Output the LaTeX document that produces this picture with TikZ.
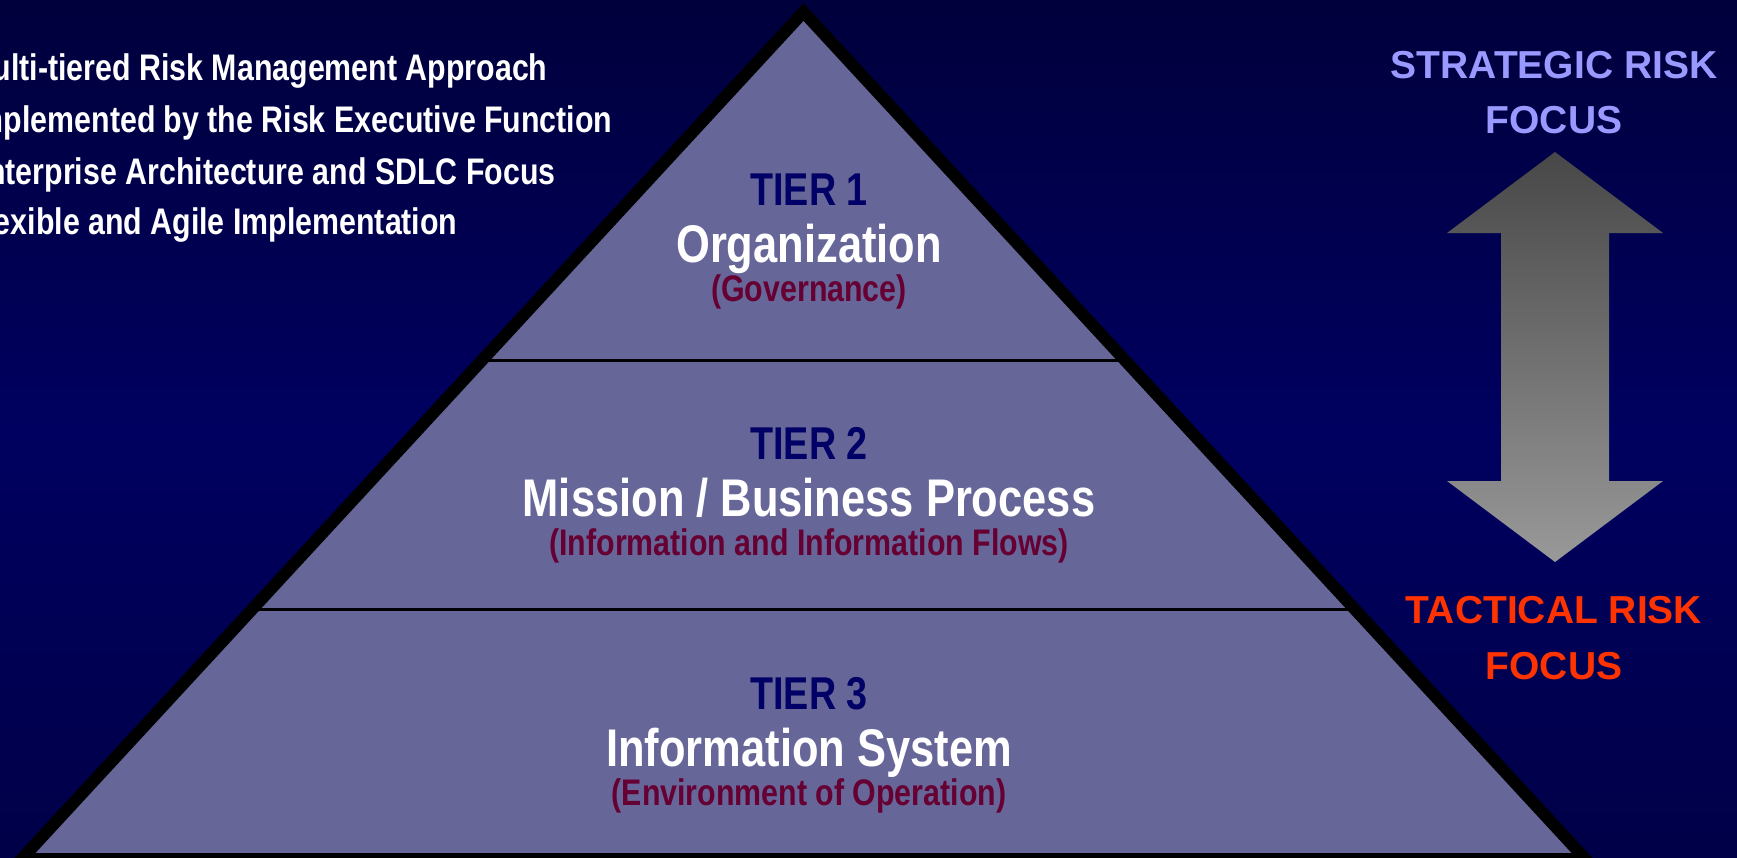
\documentclass[tikz,border=0pt]{standalone}
\usepackage{fontspec}
\setmainfont{Liberation Sans}
\newfontfamily\narrowfont[FakeStretch=0.82]{Liberation Sans}
\usetikzlibrary{calc}

\definecolor{bgtop}{HTML}{00003C}
\definecolor{bgmid}{HTML}{000060}
\definecolor{bgbot}{HTML}{000048}
\definecolor{pyramid}{HTML}{666699}
\definecolor{tiernavy}{HTML}{000066}
\definecolor{submaroon}{HTML}{660033}
\definecolor{strategic}{HTML}{9999FF}
\definecolor{tactical}{HTML}{FF3300}

\tikzset{
  bullettext/.style={anchor=base east, text=white, font=\narrowfont\bfseries\fontsize{37}{37}\selectfont},
  tiertext/.style={anchor=base, text=tiernavy, font=\narrowfont\bfseries\fontsize{46}{46}\selectfont},
  titletext/.style={anchor=base, text=white, font=\narrowfont\bfseries\fontsize{53}{53}\selectfont},
  subtext/.style={anchor=base, text=submaroon, font=\narrowfont\bfseries\fontsize{37}{37}\selectfont},
  focustext/.style={anchor=base, font=\bfseries\fontsize{39}{39}\selectfont},
}

\begin{document}
\begin{tikzpicture}[x=1pt,y=-1pt]
  \useasboundingbox (0,0) rectangle (1737,857);
  \shade[top color=bgtop, bottom color=bgbot, middle color=bgmid] (0,0) rectangle (1737,857);
  \clip (0,0) rectangle (1737,857);

  % pyramid
  \coordinate (apex) at (803.5,12);
  \coordinate (br) at (1585.3,859);
  \coordinate (bl) at (21.7,859);
  \fill[pyramid] (apex) -- (br) -- (bl) -- cycle;
  \foreach \f in {0.412,0.706} {
      \draw[line width=3] ($(apex)!\f!(bl)$) -- ($(apex)!\f!(br)$);
    }
  \draw[line width=12, line join=miter] (apex) -- (br) -- (bl) -- cycle;

  % tiers
  \foreach \n/\y/\title/\sub in {1/205/Organization/(Governance),
      2/459/{Mission / Business Process}/(Information and Information Flows),
      3/709/Information System/(Environment of Operation)} {
      \node[tiertext] (tier\n) at (809,\y) {TIER \n};
      \node[titletext] (title\n) at (809,\y+57) {\title};
      \node[subtext] (sub\n) at (809,\y+96) {\sub};
    }

  % bullets
  \foreach \i/\x/\y/\txt in {1/551/80/Multi-tiered Risk Management Approach,
      2/616/132/Implemented by the Risk Executive Function,
      3/559/184/Enterprise Architecture and SDLC Focus,
      4/461/234/Flexible and Agile Implementation} {
      \node[bullettext] (point\i) at (\x,\y) {\txt};
    }

  % focus arrow
  \shade[top color=black!72, bottom color=black!40]
    (1555,152) -- (1663,233) -- (1609,233) -- (1609,481) -- (1663,481)
    -- (1555,562) -- (1447,481) -- (1501,481) -- (1501,233) -- (1447,233) -- cycle;
  \node[focustext, text=strategic] (strat1) at (1554,78) {STRATEGIC RISK};
  \node[focustext, text=strategic] (strat2) at (1554,133) {FOCUS};
  \node[focustext, text=tactical] (tact1) at (1554,623) {TACTICAL RISK};
  \node[focustext, text=tactical] (tact2) at (1554,679) {FOCUS};
\end{tikzpicture}
\end{document}
